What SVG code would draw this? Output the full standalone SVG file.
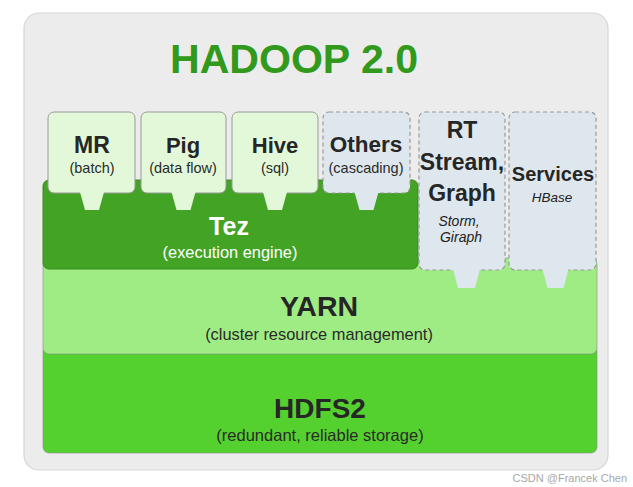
<svg xmlns="http://www.w3.org/2000/svg" width="633" height="487" viewBox="0 0 633 487">
<style>
.lbl{font-family:"Liberation Sans",Arial,sans-serif;font-weight:bold;fill:#262626;text-anchor:middle}
.sub{font-family:"Liberation Sans",Arial,sans-serif;fill:#2a2a2a;text-anchor:middle}
.it{font-family:"Liberation Sans",Arial,sans-serif;font-style:italic;fill:#222;text-anchor:middle}
.app{fill:#e3f8d9;stroke:#9a9a9a;stroke-width:1}
.dash{fill:#dfe7ee;stroke:#9a9a9a;stroke-width:1.2;stroke-dasharray:4 3}
.tabg{fill:#e3f8d9}
.tabb{fill:#dfe7ee}
.layer{stroke:#8a8a8a;stroke-opacity:0.6;stroke-width:1}
</style>
<rect width="633" height="487" fill="#ffffff"/>
<g id="panel">
<rect x="24" y="13" width="584" height="457" rx="15" fill="#ececec" stroke="#d6d6d6" stroke-width="1.2"/>
<text x="294" y="73" font-family="'Liberation Sans',Arial,sans-serif" font-weight="bold" font-size="41" fill="#31991c" text-anchor="middle" textLength="248" lengthAdjust="spacingAndGlyphs">HADOOP 2.0</text>
</g>
<g id="connectors"/>
<g id="hdfs2">
<rect class="layer" x="43" y="345" width="554" height="108" rx="6" fill="#55d12f"/>
<text class="lbl" x="320" y="418" font-size="28" fill="#111">HDFS2</text>
<text class="sub" x="320" y="441" font-size="16.5">(redundant, reliable storage)</text>
</g>
<g id="yarn">
<rect class="layer" x="43" y="258" width="554" height="96" rx="6" fill="#a0ec84"/>
<text class="lbl" x="319" y="316" font-size="28.5">YARN</text>
<text class="sub" x="319" y="340" font-size="16.4">(cluster resource management)</text>
</g>
<g id="tez">
<rect x="43" y="180" width="375" height="89" rx="6" fill="#43a324" stroke="#3a8a20" stroke-width="1"/>
<text class="lbl" x="229" y="235" font-size="25" style="fill:#ffffff">Tez</text>
<text class="sub" x="230" y="258" font-size="16.4" style="fill:#ffffff">(execution engine)</text>
</g>
<g id="mr">
<rect class="app" x="48" y="112" width="87" height="81" rx="6"/>
<polygon class="tabg" points="80,192 104,192 99,210 85,210"/>
<text class="lbl" x="92" y="153" font-size="23">MR</text>
<text class="sub" x="92" y="173" font-size="14.5">(batch)</text>
</g>
<g id="pig">
<rect class="app" x="141" y="112" width="85" height="81" rx="6"/>
<polygon class="tabg" points="171.5,192 195.5,192 190.5,210 176.5,210"/>
<text class="lbl" x="183" y="153" font-size="22">Pig</text>
<text class="sub" x="183" y="173" font-size="14.5">(data flow)</text>
</g>
<g id="hive">
<rect class="app" x="232" y="112" width="86" height="81" rx="6"/>
<polygon class="tabg" points="263,192 287,192 282,210 268,210"/>
<text class="lbl" x="275" y="153" font-size="22">Hive</text>
<text class="sub" x="275" y="173" font-size="14.5">(sql)</text>
</g>
<g id="others">
<rect class="dash" x="323" y="112" width="87" height="81" rx="6"/>
<polygon class="tabb" points="354.5,192 378.5,192 373.5,210 359.5,210"/>
<text class="lbl" x="366" y="152" font-size="22.5">Others</text>
<text class="sub" x="366" y="173" font-size="14.5">(cascading)</text>
</g>
<g id="rt">
<rect class="dash" x="419" y="112" width="86" height="158" rx="6"/>
<polygon class="tabb" points="453,269 480,269 475,288 458,288"/>
<text class="lbl" x="462" y="138" font-size="23">RT</text>
<text class="lbl" x="462" y="170" font-size="23">Stream,</text>
<text class="lbl" x="462" y="201" font-size="23">Graph</text>
<text class="it" x="459" y="226" font-size="14">Storm,</text>
<text class="it" x="461" y="242" font-size="14">Giraph</text>
</g>
<g id="services">
<rect class="dash" x="509" y="112" width="87" height="158" rx="6"/>
<polygon class="tabb" points="542.5,269 568.5,269 563.5,288 547.5,288"/>
<text class="lbl" x="553" y="181" font-size="20">Services</text>
<text class="it" x="552" y="202" font-size="13.5">HBase</text>
</g>
<text x="627" y="482" font-family="'Liberation Sans',Arial,sans-serif" font-size="11" fill="#a8a8a8" text-anchor="end">CSDN @Francek Chen</text>
</svg>
